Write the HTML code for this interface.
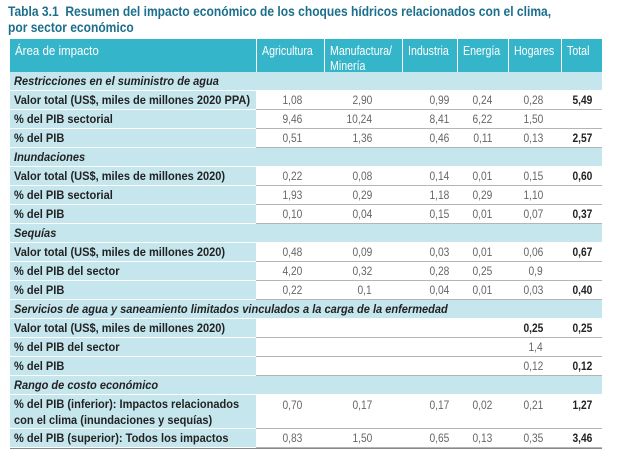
<!DOCTYPE html>
<html><head><meta charset="utf-8"><style>
*{margin:0;padding:0;box-sizing:border-box}
body{width:620px;height:456px;background:#fff;position:relative;overflow:hidden;font-family:"Liberation Sans",sans-serif}
#title{position:absolute;left:8px;top:3px;font-weight:bold;font-size:14px;line-height:16px;color:#1c6f8c;white-space:nowrap;transform:scaleX(0.86);transform-origin:left top}
.row{position:absolute;left:10px;width:592px;display:flex;font-size:12px}
.c{position:relative;height:100%;display:flex;align-items:center;justify-content:flex-end;white-space:nowrap}
.t{display:inline-block;transform:scaleX(0.85);transform-origin:left center}
.lab .t{transform:scaleX(0.92)}
.tr{display:inline-block;transform:scaleX(0.85);transform-origin:right center}
.lab{width:246px;justify-content:flex-start;padding-left:4px;background:#c6e6ee;font-weight:bold;color:#222;border-bottom:1px solid #fff}
.v{color:#666;border-bottom:1px solid #b5b5b5}
.b{font-weight:bold;color:#222}
.w1{width:68px;padding-right:22px}.w2{width:78px;padding-right:30px}.w3{width:55px;padding-right:8px}
.w4{width:51px;padding-right:16px}.w5{width:53px;padding-right:18px}.w6{width:41px;padding-right:10px}
.hdr{background:#35b5c9;color:#fff;font-size:12.5px}
.hdr .c{align-items:flex-start;justify-content:flex-start;padding:5px 0 0 5px;border-left:1px solid #fff;line-height:15px;overflow:visible}
.sec{background:#c6e6ee;font-style:italic;font-weight:bold;color:#222;padding-left:4px;align-items:center;border-bottom:1px solid #fff;white-space:nowrap}
.sec .t{transform:scaleX(0.92)}
</style></head><body>
<div id="title">Tabla 3.1&nbsp; Resumen del impacto económico de los choques hídricos relacionados con el clima,<br>por sector económico</div>
<div id="tbl"></div>
<script>
const cols=["Agricultura","Manufactura/<br>Minería","Industria","Energía","Hogares","Total"];
const rows=[
["s","Restricciones en el suministro de agua"],
["r","Valor total (US$, miles de millones 2020 PPA)",["1,08","2,90","0,99","0,24","0,28","5,49"]],
["r","% del PIB sectorial",["9,46","10,24","8,41","6,22","1,50",""]],
["r","% del PIB",["0,51","1,36","0,46","0,11","0,13","2,57"]],
["s","Inundaciones"],
["r","Valor total (US$, miles de millones 2020)",["0,22","0,08","0,14","0,01","0,15","0,60"]],
["r","% del PIB sectorial",["1,93","0,29","1,18","0,29","1,10",""]],
["r","% del PIB",["0,10","0,04","0,15","0,01","0,07","0,37"]],
["s","Sequías"],
["r","Valor total (US$, miles de millones 2020)",["0,48","0,09","0,03","0,01","0,06","0,67"]],
["r","% del PIB del sector",["4,20","0,32","0,28","0,25","0,9",""]],
["r","% del PIB",["0,22","0,1","0,04","0,01","0,03","0,40"]],
["s","Servicios de agua y saneamiento limitados vinculados a la carga de la enfermedad"],
["r","Valor total (US$, miles de millones 2020)",["","","","","0,25","0,25"],1],
["r","% del PIB del sector",["","","","","1,4",""]],
["r","% del PIB",["","","","","0,12","0,12"]],
["s","Rango de costo económico"],
["r","% del PIB (inferior): Impactos relacionados<br>con el clima (inundaciones y sequías)",["0,70","0,17","0,17","0,02","0,21","1,27"],0,34],
["r","% del PIB (superior): Todos los impactos",["0,83","1,50","0,65","0,13","0,35","3,46"]]
];
const tbl=document.getElementById('tbl');
const h=document.createElement('div');h.className='row hdr';h.style.top='39px';h.style.height='33px';


h.innerHTML='<div class="c lab" style="background:none;color:#fff;font-weight:normal;border:none;align-items:flex-start;padding-top:5px"><span class="t">Área de impacto</span></div>'+cols.map((c,i)=>'<div class="c w'+(i+1)+'" style="padding-right:0"><span class="t">'+c+'</span></div>').join('');
tbl.appendChild(h);
let y=72;
rows.forEach((r,k)=>{
 const hh=r[4]||19;
 const d=document.createElement('div');
 d.style.top=y+'px';d.style.height=hh+'px';
 if(r[0]==='s'){d.className='row sec';d.innerHTML='<span class="t">'+r[1]+'</span>';
  
 }else{
  d.className='row';
  
  let s='<div class="c lab" style="line-height:16px'+(hh>19?';align-items:flex-start;padding-top:1px':'')+'"><span class="t">'+r[1]+'</span></div>';
  r[2].forEach((v,i)=>{const bold=(i===5)||(r[3]&&i===4);s+='<div class="c v w'+(i+1)+(bold?' b':'')+'"'+(hh>19?' style="align-items:flex-start;padding-top:3px"':'')+'><span class="tr">'+v+'</span></div>';});
  d.innerHTML=s;
 }
 
 tbl.appendChild(d);y+=hh;
});
const bl=document.createElement('div');bl.style.cssText='position:absolute;left:10px;width:592px;height:1px;background:#888;top:'+(y)+'px';


tbl.appendChild(bl);
</script>
</body></html>
